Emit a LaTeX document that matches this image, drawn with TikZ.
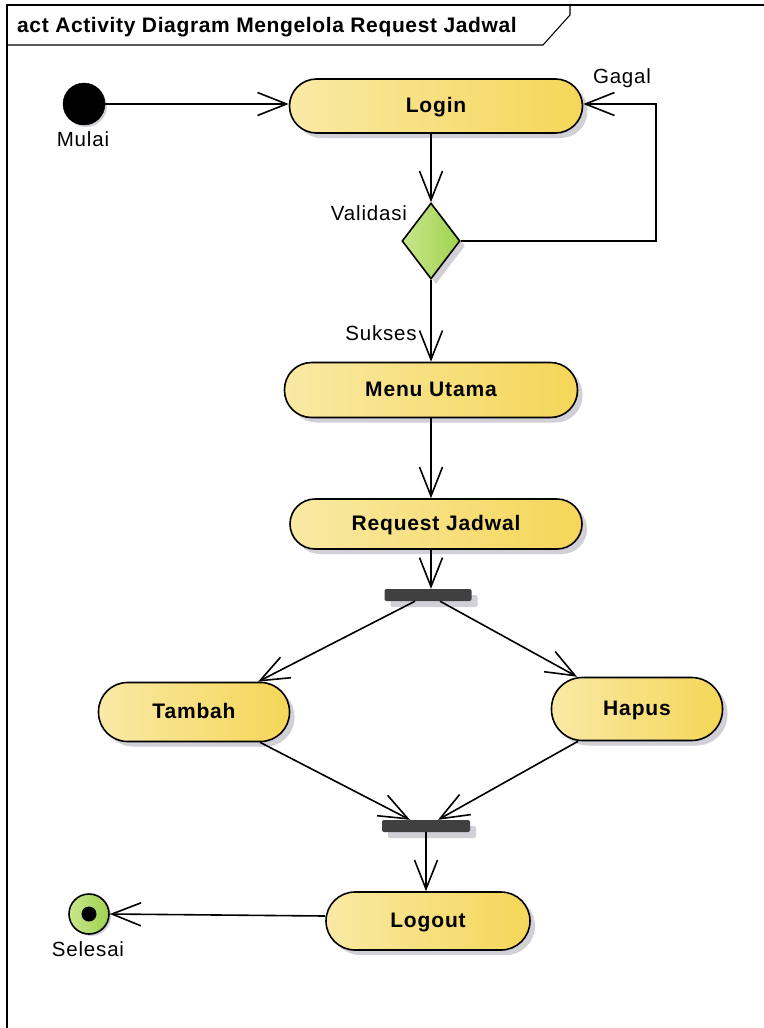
\documentclass[tikz,border=0pt]{standalone}
\usepackage{fontspec}
\setmainfont{Liberation Sans}
\newfontfamily\lblfont{Liberation Sans}[LetterSpace=4]
\newfontfamily\ttlfont{Liberation Sans}[LetterSpace=3]
\usetikzlibrary{arrows.meta,shapes.geometric,shadows,calc}
\definecolor{actL}{RGB}{249,233,165}
\definecolor{actR}{RGB}{245,214,88}
\definecolor{grnL}{RGB}{200,230,140}
\definecolor{grnR}{RGB}{160,210,80}
\definecolor{shd}{RGB}{208,208,214}
\definecolor{barc}{RGB}{64,64,64}
\tikzset{
  shd/.style={drop shadow={shadow xshift=5pt,shadow yshift=-5pt,fill=shd,opacity=1}},
  act/.style={draw=black,line width=1.6pt,rectangle,left color=actL,right color=actR,shd,
    font=\lblfont\bfseries\fontsize{21}{25}\selectfont,inner sep=0pt,text depth=0pt,text height=13pt},
  bar/.style={draw=none,fill=barc,rectangle,rounded corners=2pt,inner sep=0pt,minimum height=12pt,
    drop shadow={shadow xshift=6pt,shadow yshift=-6pt,fill=shd,opacity=1}},
  flow/.style={line width=1.6pt,-{Straight Barb[length=29pt,width=23pt,line width=1.6pt]}},
  lbl/.style={font=\lblfont\fontsize{20.5}{24}\selectfont,inner sep=0pt},
}
\begin{document}
\begin{tikzpicture}[x={(1pt,0)},y={(0,-1pt)}]
\useasboundingbox (0,0) rectangle (763,1028);
% frame
\draw[line width=1.1pt] (7,1030) -- (7,5) -- (765,5);
\draw[line width=1.1pt] (7,45) -- (543,45) -- (570,15) -- (570,5);
\node[anchor=west,font=\ttlfont\bfseries\fontsize{21}{25}\selectfont,inner sep=0pt] (title) at (17,27) {act Activity Diagram Mengelola Request Jadwal};
% nodes
\node[circle,fill=black,draw=black,minimum size=42pt,inner sep=0pt,
  drop shadow={shadow xshift=2pt,shadow yshift=-2pt,fill=shd,opacity=1}] (start) at (84,104) {};
\node[lbl] (mulai) at (83,139) {Mulai};
\node[act,minimum width=293pt,minimum height=54pt,rounded corners=27pt] (login) at (436,106) {Login};
\node[diamond,draw=black,line width=1.6pt,left color=grnL,right color=grnR,shd,
  minimum width=58pt,minimum height=76pt,inner sep=0pt] (dec) at (431,241) {};
\node[lbl] (validasi) at (369,213) {Validasi};
\coordinate (gc) at (656,104);
\node[lbl] (gagal) at (622,78) {Gagal};
\node[lbl] (sukses) at (381,333) {Sukses};
\node[act,minimum width=293pt,minimum height=55pt,rounded corners=27pt] (menu) at (431,390) {Menu Utama};
\node[act,minimum width=292pt,minimum height=50pt,rounded corners=25pt] (req) at (436,524) {Request Jadwal};
\node[bar,minimum width=87pt] (fork) at (428,595) {};
\node[act,minimum width=191pt,minimum height=59pt,rounded corners=29pt] (tambah) at (194,712) {Tambah};
\node[act,minimum width=171pt,minimum height=63pt,rounded corners=31pt] (hapus) at (637,709) {Hapus};
\node[bar,minimum width=88pt] (join) at (426,826) {};
\node[act,minimum width=204pt,minimum height=58pt,rounded corners=29pt] (logout) at (428,921) {Logout};
\node[circle,draw=black,line width=1.6pt,left color=grnL,right color=grnR,minimum size=40pt,inner sep=0pt,
  drop shadow={shadow xshift=2pt,shadow yshift=-2pt,fill=shd,opacity=1}] (final) at (89,914) {};
\node[circle,fill=black,minimum size=15pt,inner sep=0pt] (finaldot) at (final) {};
\node[lbl] (selesai) at (88,949) {Selesai};
% flows
\draw[flow] (start.east) -- (start.east -| login.west);
\draw[flow] (dec.north |- login.south) -- (dec.north);
\draw[flow] (dec.east) -| (gc) -- (login.east |- gc);
\draw[flow] (dec.south) -- (dec.south |- menu.north);
\draw[flow] (menu.south) -- (menu.south |- req.north);
\draw[flow] (req.south -| dec.south) -- (dec.south |- fork.north);
\draw[flow] ([xshift=-13pt]fork.south) -- ([xshift=64pt]tambah.north);
\draw[flow] ([xshift=12pt]fork.south) -- ([xshift=-60pt]hapus.north);
\draw[flow] ([xshift=66pt]tambah.south) -- ([xshift=-16pt]join.north);
\draw[flow] ([xshift=-59pt]hapus.south) -- ([xshift=12pt]join.north);
\draw[flow] (join.south) -- (join.south |- logout.north);
\draw[flow] ([yshift=5pt]logout.west) -- (final.east);
\end{tikzpicture}
\end{document}
